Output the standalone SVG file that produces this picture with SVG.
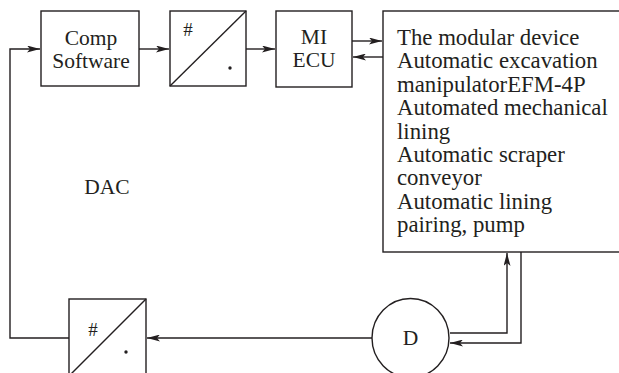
<svg xmlns="http://www.w3.org/2000/svg" width="619" height="373" viewBox="0 0 619 373">
<defs>
<marker id="ah" viewBox="0 0 13 7" refX="13" refY="3.5" markerWidth="13" markerHeight="7" markerUnits="userSpaceOnUse" orient="auto">
<path d="M0,0 L13,3.5 L0,7 L3,3.5 Z" fill="#231f20"/>
</marker>
<style>
.b{fill:#fff;stroke:#231f20;stroke-width:1.4}
.l{fill:none;stroke:#231f20;stroke-width:1.4}
.t{font-family:"Liberation Serif","Times New Roman",serif;font-size:21.5px;fill:#231f20}
.d{font-family:"Liberation Serif","Times New Roman",serif;font-size:22.8px;fill:#231f20}
.s{font-family:"Liberation Serif","Times New Roman",serif;font-size:19px;fill:#231f20}
</style>
</defs>
<rect width="619" height="373" fill="#fff"/>
<g id="connectors">
<path class="l" d="M69,338 H10 V49 H40" marker-end="url(#ah)"/>
<path class="l" d="M139,49 H169" marker-end="url(#ah)"/>
<path class="l" d="M246,49 H275" marker-end="url(#ah)"/>
<path class="l" d="M352,41 H382" marker-end="url(#ah)"/>
<path class="l" d="M383,57 H353" marker-end="url(#ah)"/>
<path class="l" d="M450,333 H507 V253" marker-end="url(#ah)"/>
<path class="l" d="M521,252 V343 H450" marker-end="url(#ah)"/>
<path class="l" d="M372,338 H147" marker-end="url(#ah)"/>
</g>
<g id="comp">
<rect class="b" x="41" y="11" width="98" height="75"/>
<text class="t" x="91" y="45" text-anchor="middle">Comp</text>
<text class="t" x="91" y="68" text-anchor="middle">Software</text>
</g>
<g id="conv1">
<rect class="b" x="170" y="11" width="76" height="75"/>
<line class="l" x1="170" y1="86" x2="246" y2="11"/>
<text class="s" x="188" y="36" text-anchor="middle">#</text>
<circle cx="230" cy="68" r="1.7" fill="#231f20"/>
</g>
<g id="mi">
<rect class="b" x="276" y="11" width="76" height="76"/>
<text class="t" x="314" y="44" text-anchor="middle">MI</text>
<text class="t" x="314" y="67" text-anchor="middle">ECU</text>
</g>
<g id="device">
<rect class="b" x="383" y="11" width="240" height="241"/>
<text class="d" x="397" y="45">The modular device</text>
<text class="d" x="397" y="68.4">Automatic excavation</text>
<text class="d" x="397" y="91.8">manipulatorEFM-4P</text>
<text class="d" x="397" y="115.2">Automated mechanical</text>
<text class="d" x="397" y="138.6">lining</text>
<text class="d" x="397" y="162">Automatic scraper</text>
<text class="d" x="397" y="185.4">conveyor</text>
<text class="d" x="397" y="208.8">Automatic lining</text>
<text class="d" x="397" y="232.2">pairing, pump</text>
</g>
<g id="dac">
<text class="t" x="107" y="194" text-anchor="middle">DAC</text>
</g>
<g id="d">
<ellipse class="b" cx="410.5" cy="338" rx="38.5" ry="39.5"/>
<text class="t" x="410.5" y="345" text-anchor="middle">D</text>
</g>
<g id="conv2">
<rect class="b" x="69" y="299" width="77" height="78"/>
<line class="l" x1="69" y1="376" x2="146" y2="299"/>
<text class="s" x="93" y="336" text-anchor="middle">#</text>
<circle cx="126" cy="352" r="1.7" fill="#231f20"/>
</g>
</svg>
